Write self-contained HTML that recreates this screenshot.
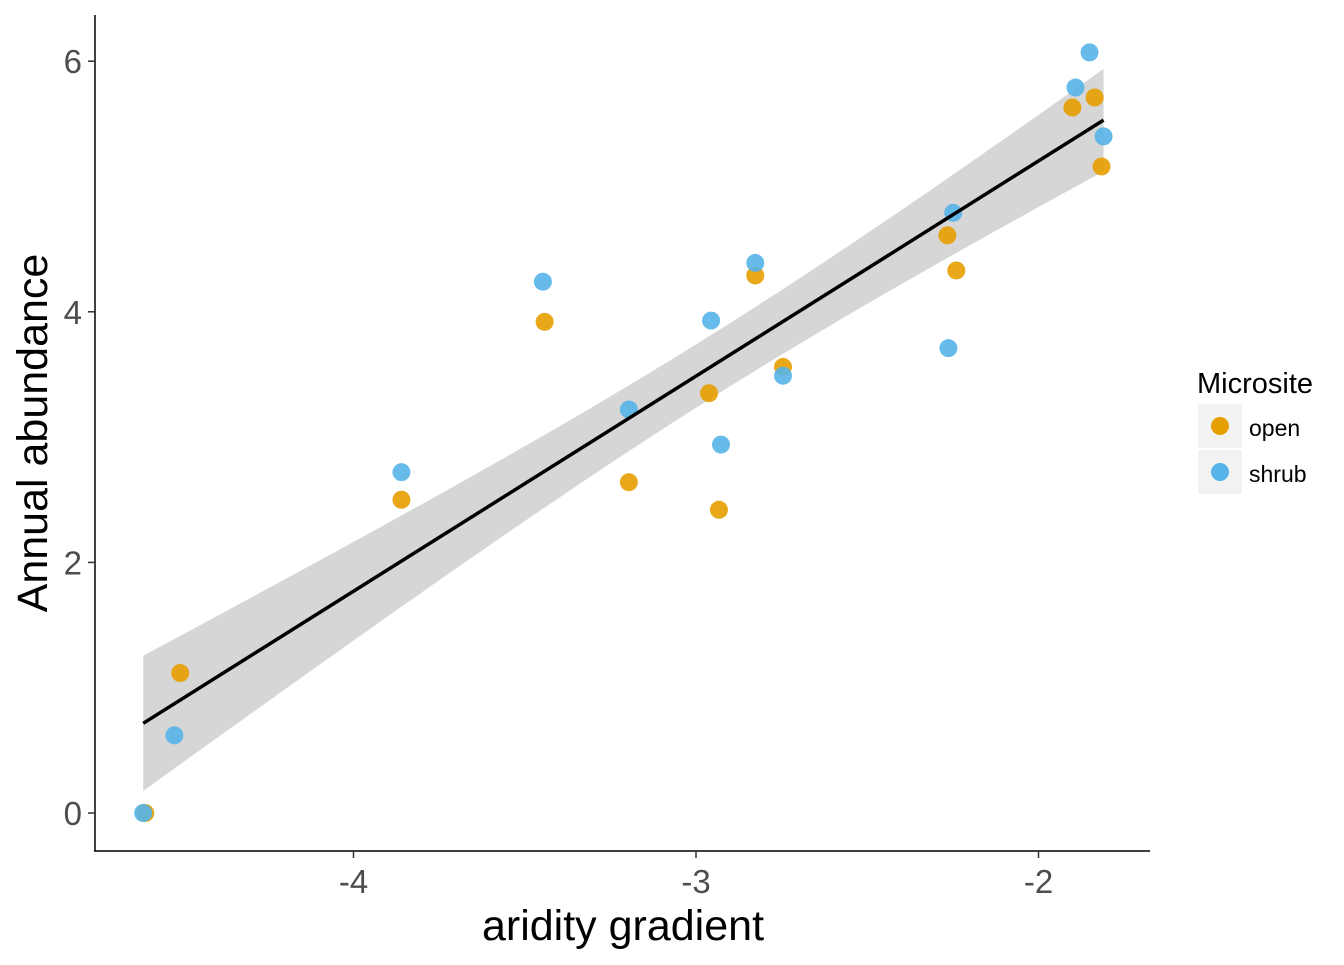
<!DOCTYPE html>
<html><head><meta charset="utf-8"><style>
body{margin:0;background:#fff}
text{font-family:"Liberation Sans",Arial,sans-serif}
</style></head><body>
<svg id="chart" width="1344" height="960" xmlns="http://www.w3.org/2000/svg">
<g id="band"></g>
<g id="pts"></g>
<g id="line"></g>
<line x1="95" y1="15" x2="95" y2="851" stroke="#000" stroke-width="1.5"/>
<line x1="94" y1="851" x2="1150" y2="851" stroke="#000" stroke-width="1.5"/>
<g id="ticks"></g>
<text x="623" y="940" font-size="43" text-anchor="middle">aridity gradient</text>
<text transform="translate(47,433) rotate(-90)" font-size="43" text-anchor="middle">Annual abundance</text>
<g>
<text x="1197" y="393" font-size="29">Microsite</text>
<rect x="1198" y="404" width="44" height="44" fill="#f2f2f2"/>
<circle cx="1220" cy="426" r="9" fill="#E69F00"/>
<text x="1249" y="436" font-size="23">open</text>
<rect x="1198" y="450" width="44" height="44" fill="#f2f2f2"/>
<circle cx="1220" cy="472" r="9" fill="#56B4E9"/>
<text x="1249" y="482" font-size="23">shrub</text>
</g>
</svg>
<script>
const openX=[-4.608,-4.506,-3.860,-3.442,-3.196,-2.962,-2.933,-2.827,-2.746,-2.266,-2.240,-1.901,-1.836,-1.816];
const openY=[0,1.117,2.50,3.92,2.64,3.35,2.42,4.29,3.56,4.61,4.33,5.63,5.71,5.16];
const shrubX=[-4.614,-4.523,-3.860,-3.447,-3.196,-2.956,-2.927,-2.827,-2.746,-2.263,-2.249,-1.892,-1.851,-1.810];
const shrubY=[0,0.62,2.72,4.24,3.22,3.93,2.94,4.39,3.49,3.71,4.79,5.79,6.07,5.40];
const xTicks=[-4,-3,-2];
const yTicks=[0,2,4,6];
const NS="http://www.w3.org/2000/svg";
const sx=v=>696+(v+3)*342.5;
const sy=v=>813-v*125.3;
function mk(tag,attrs,parent){const e=document.createElementNS(NS,tag);for(const k in attrs)e.setAttribute(k,attrs[k]);document.getElementById(parent).appendChild(e);return e;}
const X=openX.concat(shrubX),Y=openY.concat(shrubY),n=X.length;
const mx=X.reduce((a,b)=>a+b)/n,my=Y.reduce((a,b)=>a+b)/n;
let sxx=0,sxy=0;for(let i=0;i<n;i++){sxx+=(X[i]-mx)**2;sxy+=(X[i]-mx)*(Y[i]-my);}
const b=sxy/sxx,a=my-b*mx;
let sse=0;for(let i=0;i<n;i++)sse+=(Y[i]-a-b*X[i])**2;
const s=Math.sqrt(sse/(n-2)),t=2.056;
const x0=Math.min(...X),x1=Math.max(...X);
let up=[],lo=[];
for(let k=0;k<=80;k++){const x=x0+(x1-x0)*k/80;const yh=a+b*x;const se=s*Math.sqrt(1/n+(x-mx)**2/sxx);
up.push(sx(x)+','+sy(yh+t*se));lo.unshift(sx(x)+','+sy(yh-t*se));}
let band=mk('polygon',{points:up.concat(lo).join(' '),fill:'#999',"fill-opacity":0.4},'band');


let ln=mk('line',{x1:sx(x0),y1:sy(a+b*x0),x2:sx(x1),y2:sy(a+b*x1),stroke:'#000','stroke-width':3.5},'line');


function pts(xs,ys,col,name){for(let i=0;i<xs.length;i++){const c=mk('circle',{cx:sx(xs[i]),cy:sy(ys[i]),r:9,fill:col,'fill-opacity':0.9},'pts');

}}
pts(openX,openY,'#E69F00','point-open');
pts(shrubX,shrubY,'#56B4E9','point-shrub');
xTicks.forEach(v=>{const l=mk('line',{x1:sx(v),x2:sx(v),y1:851,y2:858,stroke:'#333','stroke-width':1.5},'ticks');


const tx=mk('text',{x:sx(v),y:893,'font-size':33,fill:'#4d4d4d','text-anchor':'middle'},'ticks');tx.textContent=v;

});
yTicks.forEach(v=>{const l=mk('line',{x1:88,x2:95,y1:sy(v),y2:sy(v),stroke:'#333','stroke-width':1.5},'ticks');


const tx=mk('text',{x:82,y:sy(v)+12,'font-size':33,fill:'#4d4d4d','text-anchor':'end'},'ticks');tx.textContent=v;

});
</script>
</body></html>
